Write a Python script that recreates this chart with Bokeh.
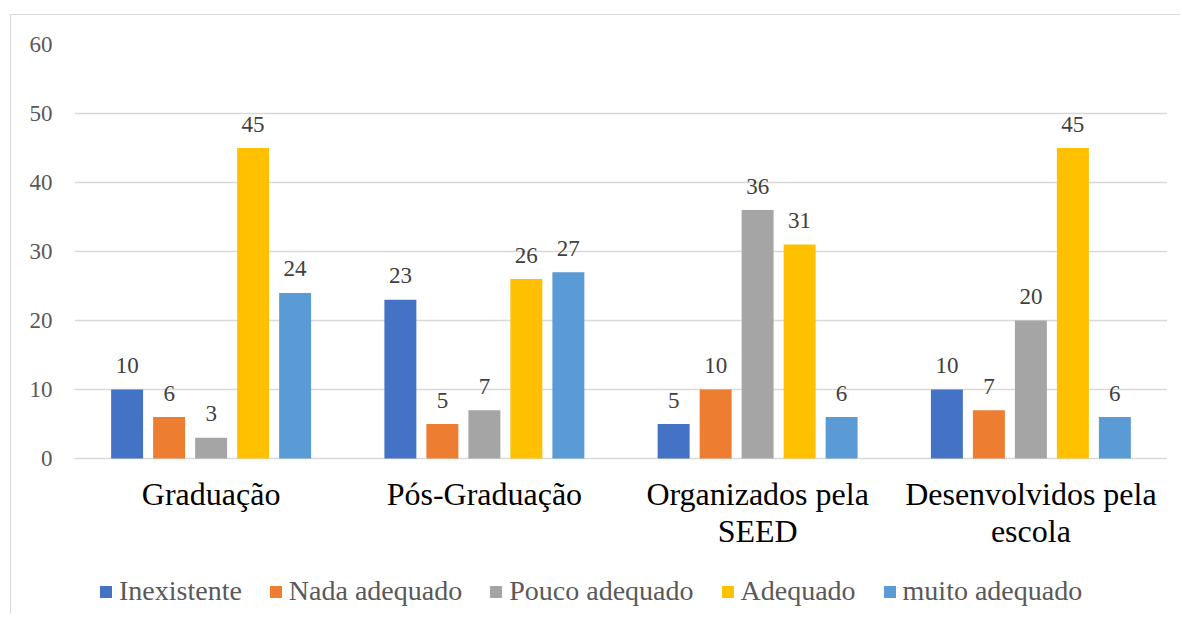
from bokeh.plotting import figure
from bokeh.models import ColumnDataSource, Range1d, Legend, LegendItem, FactorRange, FixedTicker
from bokeh.transform import dodge
from bokeh.core.properties import value
from bokeh.embed import file_html
from bokeh.resources import INLINE

categories = ["Graduação", "Pós-Graduação", "Organizados pela SEED", "Desenvolvidos pela escola"]
category_labels = ["Graduação", "Pós-Graduação", "Organizados pela\nSEED", "Desenvolvidos pela\nescola"]
series = ["Inexistente", "Nada adequado", "Pouco adequado", "Adequado", "muito adequado"]
inexistente = [10, 23, 5, 10]
nada_adequado = [6, 5, 10, 7]
pouco_adequado = [3, 7, 36, 20]
adequado = [45, 26, 31, 45]
muito_adequado = [24, 27, 6, 6]
y_ticks = [0, 10, 20, 30, 40, 50, 60]
colors = ["#4472C4", "#ED7D31", "#A5A5A5", "#FFC000", "#5B9BD5"]

values = [inexistente, nada_adequado, pouco_adequado, adequado, muito_adequado]
keys = ["s0", "s1", "s2", "s3", "s4"]
data = {"cat": categories, "lab": category_labels, "zero": [0] * len(categories)}
for k, v in zip(keys, values):
    data[k] = v
    data[k + "_t"] = [str(x) for x in v]
source = ColumnDataSource(data)

FONT = "Liberation Serif"

y_low = -157 / (414 / 60)
p = figure(width=1170, height=600, x_range=FactorRange(*categories), y_range=Range1d(y_low, 60),
           output_backend="svg", toolbar_location=None, tools="",
           min_border_left=63, min_border_right=14, min_border_top=29, min_border_bottom=0)
p.margin = (14, 0, 0, 10)
p.styles = {"border-top": "1px solid #d9d9d9", "border-left": "1px solid #d9d9d9",
            "font-family": "'Liberation Serif', serif"}
p.outline_line_color = None
p.background_fill_color = "white"
p.border_fill_color = "white"

step = 0.1537
bw = 0.117
renderers = []
for i, (k, c) in enumerate(zip(keys, colors)):
    off = (i - 2) * step
    r = p.vbar(x=dodge("cat", off, range=p.x_range), top=k, width=bw, source=source,
               fill_color=c, line_color=None)
    renderers.append(r)
    p.text(x=dodge("cat", off, range=p.x_range), y=k, text=k + "_t", source=source,
           text_align="center", text_baseline="alphabetic", y_offset=-24,
           text_font=value(FONT), text_font_size="23px", text_color="#404040")

p.text(x="cat", y="zero", text="lab", source=source, text_align="center", text_baseline="top",
       y_offset=17, text_font=value(FONT), text_font_size="32px", text_color="#000000",
       text_line_height=1.05)

p.xaxis.visible = False
p.xgrid.grid_line_color = None
p.ygrid.ticker = FixedTicker(ticks=y_ticks)
p.ygrid.grid_line_color = "#d9d9d9"
p.ygrid.grid_line_width = 1.5

p.yaxis.ticker = FixedTicker(ticks=y_ticks)
p.yaxis.axis_line_color = None
p.yaxis.major_tick_line_color = None
p.yaxis.minor_tick_line_color = None
p.yaxis.major_label_text_font = FONT
p.yaxis.major_label_text_font_size = "23px"
p.yaxis.major_label_text_color = "#595959"
p.yaxis.major_label_standoff = 16

legend = Legend(items=[LegendItem(label=s, renderers=[r]) for s, r in zip(series, renderers)],
                orientation="horizontal", location=(24, 8))
legend.glyph_width = 15
legend.glyph_height = 15
legend.label_standoff = 6
legend.spacing = 26
legend.padding = 0
legend.margin = 0
legend.border_line_color = None
legend.background_fill_alpha = 0
legend.label_text_font = FONT
legend.label_text_font_size = "28px"
legend.label_text_color = "#595959"
p.add_layout(legend, "center")

open("out.html", "w").write(file_html(p, INLINE))
